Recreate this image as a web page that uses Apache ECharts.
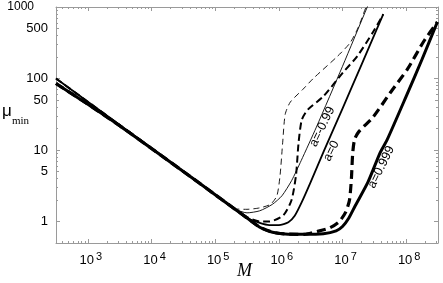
<!DOCTYPE html>
<html><head><meta charset="utf-8">
<script src="https://cdn.jsdelivr.net/npm/echarts@6/dist/echarts.min.js"></script>
<style>html,body{margin:0;padding:0;background:#fff}#c{width:443px;height:283px}</style>
</head><body><div id="c"></div>
<script>
// ---- axis ranges / ticks ----
const xMin = 316.2, xMax = 3.162e8;
const yMin = 0.5, yMax = 1000;
const xMajor = [1e3, 1e4, 1e5, 1e6, 1e7, 1e8];
const xExp = ['3', '4', '5', '6', '7', '8'];
const xMinor = [400,500,600,700,800,900, 2e3,3e3,4e3,5e3,6e3,7e3,8e3,9e3, 2e4,3e4,4e4,5e4,6e4,7e4,8e4,9e4,
  2e5,3e5,4e5,5e5,6e5,7e5,8e5,9e5, 2e6,3e6,4e6,5e6,6e6,7e6,8e6,9e6, 2e7,3e7,4e7,5e7,6e7,7e7,8e7,9e7, 2e8,3e8];
const yLabels = [1, 5, 10, 50, 100, 500, 1000];
const yMajor = [1, 10, 100, 1000];
const yMid = [5, 50, 500];
const yMinor = [2,3,4,6,7,8,9, 20,30,40,60,70,80,90, 200,300,400,600,700,800,900];

// ---- data (M, mu_min) ----
const headM = [316, 1000, 3160, 1e4, 3.16e4, 1e5, 2e5];
const upperMu = [100, 47.3, 22.4, 10.6, 5.01, 2.37, 1.51];
const lowerMu = [85.1, 43.7, 21.9, 10.5, 5.01, 2.37, 1.51];

const thinSolidM  = [3.16e5, 5.01e5, 7.94e5, 1.12e6, 1.585e6, 2.24e6, 3.89e6, 1e7, 2.45e7, 2.82e7];
const thinSolidMu = [1.32, 1.41, 1.74, 2.29, 3.72, 7.08, 20.9, 148, 1000, 1318];

const thinDashM  = [3.16e5, 5.01e5, 7.41e5, 9.33e5, 1.047e6, 1.148e6, 1.259e6, 1.514e6, 2.40e6, 3.47e6, 8.32e6, 1.318e7, 1.778e7, 2.34e7, 2.63e7];
const thinDashMu = [1.48, 1.55, 1.74, 2.29, 4.47, 12.6, 31.6, 46.8, 70.8, 100, 204, 316, 525, 1000, 1259];

const medSolidM  = [3.16e5, 5.01e5, 7.08e5, 1e6, 1.413e6, 1.778e6, 2.29e6, 3.16e6, 5.13e6, 1e7, 2e7, 4.37e7];
const medSolidMu = [1.12, 0.955, 0.891, 0.891, 0.977, 1.20, 1.86, 3.55, 9.77, 38.0, 158, 794];

const medDashM  = [3.16e5, 5.01e5, 7.08e5, 1.175e6, 1.585e6, 1.862e6, 2.04e6, 2.29e6, 2.82e6, 5.01e6, 1.023e7, 1.70e7, 3.02e7, 4.37e7];
const medDashMu = [1.15, 1.0, 1.0, 1.216, 2.0, 4.47, 12.6, 26.3, 36.3, 56.2, 122, 204, 447, 794];

const thickSolidM  = [3.16e5, 5.01e5, 7.94e5, 1.259e6, 2.51e6, 5.01e6, 7.94e6, 1e7, 1.259e7, 1.585e7, 2.51e7, 3.89e7, 5.01e7, 1e8, 1.778e8, 3.09e8];
const thickSolidMu = [1.12, 0.832, 0.708, 0.668, 0.661, 0.676, 0.741, 0.851, 1.12, 1.66, 3.55, 9.12, 13.8, 56.2, 186, 617];

const thickDashM  = [3.16e5, 5.01e5, 7.94e5, 1.259e6, 2.51e6, 3.98e6, 6.31e6, 8.91e6, 1.122e7, 1.288e7, 1.38e7, 1.445e7, 1.549e7, 1.82e7, 3.02e7, 5.62e7, 1.047e8, 1.862e8, 3.09e8];
const thickDashMu = [1.12, 0.832, 0.708, 0.668, 0.661, 0.724, 0.813, 1.0, 1.35, 2.0, 3.98, 8.91, 14.1, 18.2, 28.8, 63.1, 135, 324, 617];

const curveLabels = [
  { text: 'a=-0.99', M: 4.80e6, mu: 21.1 },
  { text: 'a=0',     M: 6.65e6, mu: 9.68 },
  { text: 'a=0.999', M: 4.06e7, mu: 5.76 }
];

function pairs(ms, mus) { return ms.map((m, i) => [m, mus[i]]); }
const upperHead = pairs(headM, upperMu);
const lowerHead = pairs(headM, lowerMu);

const FONT = 'Liberation Sans, Arial, Helvetica, sans-serif';
const AXC = '#9a9a9a';

function xAx(pos, ticks, len, showLine, showLabel) {
  return {
    type: 'log', min: xMin, max: xMax, position: pos, gridIndex: 0,
    axisLine: { show: showLine, lineStyle: { color: AXC, width: 1 } },
    axisTick: { show: true, inside: true, length: len, customValues: ticks, lineStyle: { color: AXC, width: 1 } },
    splitLine: { show: false }, minorTick: { show: false },
    axisLabel: showLabel ? {
      show: true, margin: 8, customValues: xMajor,
      formatter: function (v) {
        const i = xMajor.findIndex(t => Math.abs(Math.log10(t) - Math.log10(v)) < 1e-6);
        return '{sp|}{b|10}{s|' + (i >= 0 ? xExp[i] : '') + '}';
      },
      rich: {
        sp: { width: 6 },
        b: { fontSize: 13, fontFamily: FONT, color: '#000' },
        s: { fontSize: 11, fontFamily: FONT, color: '#000', padding: [0, 0, 7, 2] }
      }
    } : { show: false }
  };
}
function yAx(pos, ticks, len, showLine, showLabel) {
  return {
    type: 'log', min: yMin, max: yMax, position: pos, gridIndex: 0,
    axisLine: { show: showLine, lineStyle: { color: AXC, width: 1 } },
    axisTick: { show: true, inside: true, length: len, customValues: ticks, lineStyle: { color: AXC, width: 1 } },
    splitLine: { show: false }, minorTick: { show: false },
    axisLabel: showLabel ? {
      show: true, margin: 8, customValues: yLabels,
      fontSize: 13, fontFamily: FONT, color: '#000',
      formatter: function (v) {
        const n = Math.round(v);
        return n === 1000 ? '{t|1000}' : String(n);
      },
      rich: { t: { fontSize: 12, fontFamily: FONT, color: '#000', padding: [0, 14, 0, 0] } }
    } : { show: false }
  };
}

function line(data, width, dash, z) {
  return {
    type: 'line', data: data, xAxisIndex: 0, yAxisIndex: 0,
    showSymbol: false, symbol: 'none', smooth: 0.22,
    lineStyle: { color: '#000', width: width, type: dash || 'solid', cap: 'butt', join: 'round' },
    z: z, silent: true, clip: true
  };
}
function withLabel(s, lab) {
  s.markPoint = {
    symbol: 'circle', symbolSize: 1, itemStyle: { color: 'rgba(0,0,0,0)' }, silent: true,
    label: { show: true, position: 'inside', formatter: lab.text, rotate: 64,
      fontSize: 12.5, fontFamily: FONT, color: '#000' },
    data: [{ coord: [lab.M, lab.mu] }]
  };
  return s;
}

const series = [
  withLabel(line(upperHead.concat(pairs(thinSolidM, thinSolidMu)), 0.9, null, 2), curveLabels[0]),
  line(upperHead.concat(pairs(thinDashM, thinDashMu)), 0.9, [6, 4], 2),
  withLabel(line(upperHead.concat(pairs(medSolidM, medSolidMu)), 1.8, null, 3), curveLabels[1]),
  line(upperHead.concat(pairs(medDashM, medDashMu)), 2, [7, 4], 3),
  withLabel(line(lowerHead.concat(pairs(thickSolidM, thickSolidMu)), 3, null, 4), curveLabels[2]),
  line(lowerHead.concat(pairs(thickDashM, thickDashMu)), 3.2, [9, 5], 4)
];

const chart = echarts.init(document.getElementById('c'), null, { renderer: 'canvas' });
chart.setOption({
  animation: false,
  backgroundColor: '#fff',
  grid: { left: 56, right: 5, top: 7, bottom: 40, containLabel: false },
  xAxis: [
    xAx('bottom', xMajor, 4, true, true),
    xAx('bottom', xMinor, 2, false, false),
    xAx('top', xMajor, 4, true, false),
    xAx('top', xMinor, 2, false, false)
  ],
  yAxis: [
    yAx('left', yMajor, 4, true, true),
    yAx('left', yMid, 3, false, false),
    yAx('left', yMinor, 2, false, false),
    yAx('right', yMajor, 4, true, false),
    yAx('right', yMid, 3, false, false),
    yAx('right', yMinor, 2, false, false)
  ],
  graphic: [
    { type: 'text', left: 2, top: 103, style: { text: 'μ', fontSize: 17, fontFamily: FONT, fill: '#000' } },
    { type: 'text', left: 12, top: 116, style: { text: 'min', fontSize: 11, fontFamily: 'Liberation Serif, Times New Roman, serif', fill: '#000' } },
    { type: 'text', left: 237, top: 262, style: { text: 'M', fontSize: 18, fontStyle: 'italic', fontFamily: 'Liberation Serif, Times New Roman, serif', fill: '#000' } }
  ],
  series: series
});
</script>
</body></html>
